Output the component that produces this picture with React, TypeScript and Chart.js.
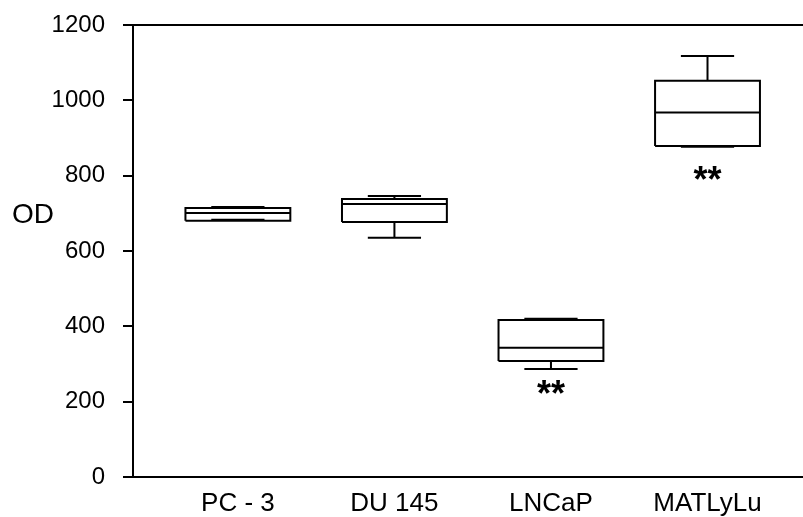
import React, { useEffect, useRef } from "react";
import { Chart, registerables } from "chart.js";

Chart.register(...registerables);

const categories = ["PC - 3", "DU 145", "LNCaP", "MATLyLu"];
const lowerWhisker = [683, 635, 287, 877];
const q1 = [680, 677, 308, 879];
const median = [701, 725, 343, 968];
const q3 = [714, 738, 417, 1052];
const upperWhisker = [717, 746, 420, 1118];
const significance = ["", "", "**", "**"];
const significanceAt = [null, null, 226, 794];
const yTicks = [0, 200, 400, 600, 800, 1000, 1200];

const BOX_HALF = 0.335;
const CAP_HALF = 0.17;
const FONT = "'Liberation Sans', Arial, sans-serif";

function boxPoints(i: number) {
  const c = i + 1;
  const gap = { x: c, y: null as any };
  return [
    { x: c - BOX_HALF, y: q1[i] },
    { x: c + BOX_HALF, y: q1[i] },
    { x: c + BOX_HALF, y: q3[i] },
    { x: c - BOX_HALF, y: q3[i] },
    { x: c - BOX_HALF, y: q1[i] },
    gap,
    { x: c - BOX_HALF, y: median[i] },
    { x: c + BOX_HALF, y: median[i] },
    gap,
    { x: c, y: q3[i] },
    { x: c, y: upperWhisker[i] },
    gap,
    { x: c - CAP_HALF, y: upperWhisker[i] },
    { x: c + CAP_HALF, y: upperWhisker[i] },
    gap,
    { x: c, y: q1[i] },
    { x: c, y: lowerWhisker[i] },
    gap,
    { x: c - CAP_HALF, y: lowerWhisker[i] },
    { x: c + CAP_HALF, y: lowerWhisker[i] },
  ];
}

const extrasPlugin = {
  id: "extras",
  afterDraw(chart: any) {
    const { ctx, chartArea, scales } = chart;
    const x = scales.x;
    const y = scales.y;
    ctx.save();
    ctx.strokeStyle = "#000";
    ctx.lineWidth = 2;
    const yt = y.getPixelForValue(yTicks[yTicks.length - 1]);
    ctx.beginPath();
    ctx.moveTo(chartArea.left, yt);
    ctx.lineTo(chartArea.right + 2, yt);
    ctx.stroke();
    ctx.fillStyle = "#000";
    ctx.textAlign = "center";
    ctx.textBaseline = "alphabetic";
    const size = 36;
    ctx.font = `bold ${size}px ${FONT}`;
    significance.forEach((s, i) => {
      const v = significanceAt[i];
      if (!s || v === null) return;
      ctx.fillText(s, x.getPixelForValue(i + 1), y.getPixelForValue(v) + 0.4 * size);
    });
    ctx.font = `28px ${FONT}`;
    ctx.textAlign = "left";
    ctx.textBaseline = "middle";
    ctx.fillText("OD", 12, 215);
    ctx.restore();
  },
};

export default function App() {
  const ref = useRef<HTMLCanvasElement>(null);
  useEffect(() => {
    const canvas = ref.current!;
    const chart = new Chart(canvas, {
      type: "line",
      data: {
        datasets: categories.map((name, i) => ({
          label: name,
          data: boxPoints(i),
          borderColor: "#000",
          borderWidth: 2,
          pointRadius: 0,
          spanGaps: false,
          tension: 0,
          fill: false,
        })),
      },
      options: {
        animation: false,
        responsive: false,
        devicePixelRatio: 1,
        layout: { padding: { top: 25, right: 0, bottom: 0, left: 0 } },
        plugins: { legend: { display: false }, tooltip: { enabled: false } },
        scales: {
          x: {
            type: "linear",
            min: 0.33,
            max: 4.61,
            afterBuildTicks: (scale: any) => {
              scale.ticks = categories.map((_, i) => ({ value: i + 1 }));
            },
            afterFit: (scale: any) => {
              scale.height = 40;
              scale.paddingLeft = 0;
              scale.paddingRight = 0;
            },
            ticks: {
              autoSkip: false,
              maxRotation: 0,
              padding: 11,
              color: "#000",
              font: { family: FONT, size: 26 },
              callback: (v: any) => categories[Math.round(v) - 1] ?? "",
            },
            grid: { display: false, drawTicks: false },
            border: { display: true, color: "#000", width: 2 },
          },
          y: {
            type: "linear",
            min: 0,
            max: 1200,
            afterBuildTicks: (scale: any) => {
              scale.ticks = yTicks.map((v) => ({ value: v }));
            },
            afterFit: (scale: any) => {
              scale.width = 133;
              scale.paddingTop = 0;
              scale.paddingBottom = 0;
            },
            ticks: {
              padding: 18,
              color: "#000",
              font: { family: FONT, size: 24 },
              callback: (v: any) => String(v),
            },
            grid: {
              display: true,
              drawOnChartArea: false,
              drawTicks: true,
              tickLength: 10,
              color: "#000",
              lineWidth: 2,
            },
            border: { display: true, color: "#000", width: 2 },
          },
        },
      },
      plugins: [extrasPlugin],
    });
    return () => chart.destroy();
  }, []);
  return (
    <div style={{ position: "absolute", left: 0, top: 0, width: 803, height: 517, background: "#fff" }}>
      <canvas ref={ref} width={803} height={517} />
    </div>
  );
}
